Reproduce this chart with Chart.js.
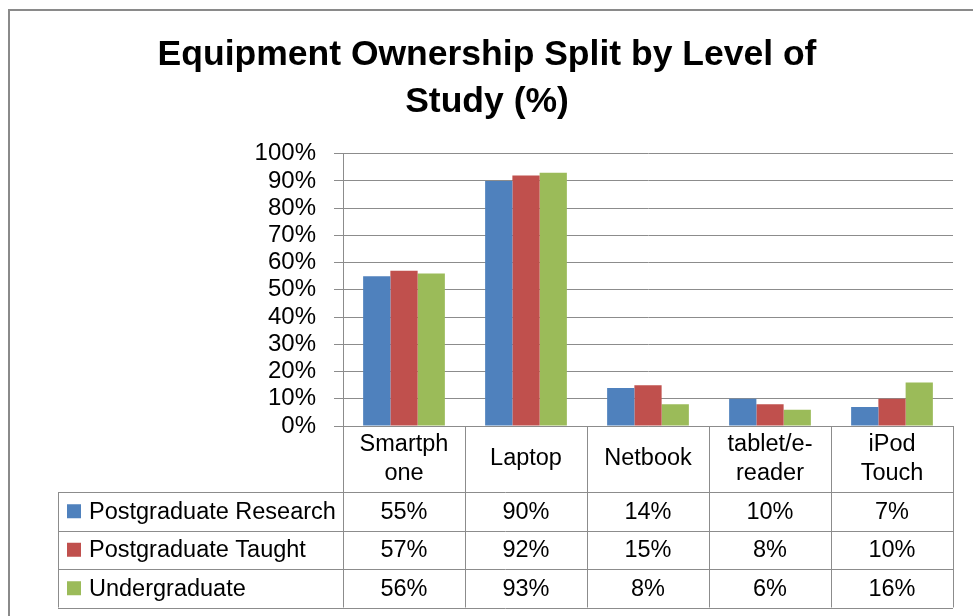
<!DOCTYPE html>
<html>
<head>
<meta charset="utf-8">
<script src="https://cdn.jsdelivr.net/npm/chart.js@4/dist/chart.umd.min.js"></script>
<style>
  html, body { margin: 0; padding: 0; background: #fff; }
  #wrap { width: 973px; height: 616px; }
</style>
</head>
<body>
<div id="wrap"><canvas id="ownershipChart" width="973" height="616"></canvas></div>
<script>
// du lieu doc tu hinh
const categories = [["Smartph", "one"], "Laptop", "Netbook", ["tablet/e-", "reader"], ["iPod", "Touch"]];
const seriesNames = ["Postgraduate Research", "Postgraduate Taught", "Undergraduate"];
const pgResearch = [55, 90, 14, 10, 7];
const pgTaught = [57, 92, 15, 8, 10];
const undergrad = [56, 93, 8, 6, 16];
const seriesColors = ["#4F81BD", "#C0504D", "#9BBB59"];
const yTicks = [0, 10, 20, 30, 40, 50, 60, 70, 80, 90, 100];

const FONT = "'Liberation Sans', Arial, sans-serif";
const LINE = "#8c8c8c";

// khung ngoai cua bieu do
const framePlugin = {
  id: "outerFrame",
  beforeDraw(chart) {
    const ctx = chart.ctx;
    ctx.save();
    ctx.fillStyle = "#fff";
    ctx.fillRect(0, 0, chart.width, chart.height);
    ctx.strokeStyle = "#8a8a8a";
    ctx.lineWidth = 2;
    ctx.strokeRect(9, 10, chart.width + 20, chart.height + 20);
    ctx.restore();
  },
};

// bang du lieu ben duoi truc x
const tablePlugin = {
  id: "dataTable",
  afterDraw(chart) {
    const { ctx, chartArea } = chart;
    const x = chart.scales.x;
    const n = categories.length;
    const colW = (x.right - x.left) / n;
    const top = chartArea.bottom;
    const headerH = 66;
    const rowH = 38.5;
    const tableLeft = 58;
    const bottom = top + headerH + rowH * seriesNames.length;
    const allSeries = [pgResearch, pgTaught, undergrad];

    ctx.save();
    ctx.strokeStyle = LINE;
    ctx.lineWidth = 1;

    // duong ngang
    for (let r = 0; r <= seriesNames.length; r++) {
      const yy = Math.round(top + headerH + rowH * r) + 0.5;
      ctx.beginPath();
      ctx.moveTo(tableLeft, yy);
      ctx.lineTo(x.right, yy);
      ctx.stroke();
    }
    // duong doc
    ctx.beginPath();
    ctx.moveTo(tableLeft + 0.5, top + headerH);
    ctx.lineTo(tableLeft + 0.5, bottom);
    ctx.stroke();
    for (let i = 0; i <= n; i++) {
      const xx = Math.round(x.left + colW * i) + 0.5;
      ctx.beginPath();
      ctx.moveTo(xx, top);
      ctx.lineTo(xx, bottom);
      ctx.stroke();
    }

    ctx.fillStyle = "#000";
    ctx.textAlign = "center";
    ctx.textBaseline = "middle";
    ctx.font = "23.5px " + FONT;

    // tieu de cot
    categories.forEach((label, i) => {
      const cx = x.getPixelForValue(i);
      const lines = Array.isArray(label) ? label : [label];
      const cy = top + headerH / 2;
      const gap = 29;
      lines.forEach((ln, k) => {
        ctx.fillText(ln, cx, cy + (k - (lines.length - 1) / 2) * gap);
      });
    });

    // cac hang
    seriesNames.forEach((name, r) => {
      const cy = top + headerH + rowH * r + rowH / 2;
      ctx.fillStyle = seriesColors[r];
      ctx.fillRect(tableLeft + 9, cy - 7, 14, 14);
      ctx.fillStyle = "#000";
      ctx.textAlign = "left";
      ctx.fillText(name, tableLeft + 31, cy + 1);
      ctx.textAlign = "center";
      allSeries[r].forEach((v, i) => {
        ctx.fillText(v + "%", x.getPixelForValue(i), cy + 1);
      });
    });
    ctx.restore();
  },
};

const ctx = document.getElementById("ownershipChart").getContext("2d");

new Chart(ctx, {
  type: "bar",
  data: {
    labels: categories,
    datasets: [pgResearch, pgTaught, undergrad].map((d, i) => ({
      label: seriesNames[i],
      data: d,
      backgroundColor: seriesColors[i],
      borderWidth: 0,
      categoryPercentage: 0.67,
      barPercentage: 1.0,
    })),
  },
  options: {
    responsive: false,
    animation: false,
    layout: { padding: { left: 21, right: 20, top: 0, bottom: 190 } },
    scales: {
      x: {
        grid: { display: false, drawTicks: false },
        border: { display: true, color: LINE, width: 1 },
        ticks: { display: false },
      },
      y: {
        min: 0,
        max: 100,
        afterFit(scale) {
          scale.width = 322;
        },
        afterBuildTicks(scale) {
          scale.ticks = yTicks.map((v) => ({ value: v }));
        },
        grid: { color: LINE, lineWidth: 1, tickLength: 9 },
        border: { display: true, color: LINE, width: 1 },
        ticks: {
          autoSkip: false,
          padding: 18,
          color: "#000",
          font: { family: FONT, size: 24 },
          callback: (v) => v + "%",
        },
      },
    },
    plugins: {
      legend: { display: false },
      tooltip: { enabled: false },
      title: {
        display: true,
        text: ["Equipment Ownership Split by Level of", "Study (%)"],
        color: "#000",
        font: { family: FONT, size: 35.5, weight: "bold", lineHeight: 1.32 },
        padding: { top: 32, bottom: 28 },
      },
    },
  },
  plugins: [framePlugin, tablePlugin],
});
</script>
</body>
</html>
